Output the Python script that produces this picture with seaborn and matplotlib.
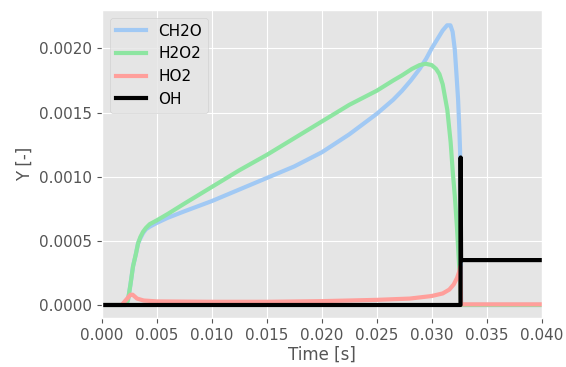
import numpy as np
import pandas as pd
import matplotlib
matplotlib.use("Agg")
import matplotlib.pyplot as plt
import seaborn as sns

# ---------------------------------------------------------------------------
# Données (fractions massiques)
# ---------------------------------------------------------------------------

t_ch2o = [0, 0.0022, 0.00238, 0.0026, 0.00283, 0.0031, 0.00329, 0.0035,
          0.00374, 0.004, 0.00435, 0.005, 0.006, 0.0075, 0.01, 0.0125, 0.015,
          0.0175, 0.02, 0.0225, 0.025, 0.0265, 0.0273, 0.0281, 0.0289,
          0.0295, 0.03, 0.0305, 0.031, 0.0314, 0.0317, 0.0319, 0.0321,
          0.03225, 0.0324, 0.0325, 0.03258, 0.03263, 0.03267, 0.04]
y_ch2o = [0, 0, 0.00004, 0.00016, 0.0003, 0.0004, 0.00048, 0.00052, 0.00056,
          0.00059, 0.00061, 0.00064, 0.00068, 0.00073, 0.00081, 0.0009,
          0.00099, 0.00108, 0.00119, 0.00133, 0.00149, 0.0016, 0.00167,
          0.00175, 0.00184, 0.00192, 0.002, 0.00207, 0.00214, 0.00218,
          0.00218, 0.00213, 0.00199, 0.0018, 0.0016, 0.0014, 0.0012, 0.0009,
          0.0, 0.0]

t_h2o2 = [0, 0.0022, 0.00238, 0.0026, 0.00283, 0.0031, 0.00329, 0.0035,
          0.00374, 0.004, 0.00435, 0.005, 0.006, 0.0075, 0.01, 0.0125, 0.015,
          0.0175, 0.02, 0.0225, 0.025, 0.0265, 0.0273, 0.0282, 0.0289,
          0.02945, 0.03, 0.0304, 0.0307, 0.031, 0.03142, 0.03172, 0.03193,
          0.0321, 0.0323, 0.0324, 0.0325, 0.0326, 0.03267, 0.04]
y_h2o2 = [0, 0, 0.00004, 0.00016, 0.0003, 0.0004, 0.00048, 0.00053, 0.00057,
          0.0006, 0.00063, 0.00066, 0.00071, 0.00079, 0.00092, 0.00105,
          0.00117, 0.0013, 0.00143, 0.00156, 0.00167, 0.00175, 0.00179,
          0.00184, 0.00187, 0.00188, 0.00187, 0.00184, 0.0018, 0.00172,
          0.00152, 0.00127, 0.00102, 0.00085, 0.0006, 0.00045, 0.0003,
          0.00015, 0.0, 0.0]

t_ho2 = [0, 0.0018, 0.0023, 0.0026, 0.0028, 0.0032, 0.0038, 0.005, 0.01,
         0.015, 0.02, 0.025, 0.028, 0.03, 0.031, 0.0316, 0.032, 0.0323, 0.0325,
         0.0326, 0.03267, 0.04]
y_ho2 = [0, 0, 0.00005, 0.00008, 0.00008, 0.00005, 0.000035, 0.000028,
         0.000025, 0.000025, 0.00003, 0.00004, 0.00005, 0.00007, 0.00009,
         0.00012, 0.00016, 0.00021, 0.00026, 0.0003, 0.000005, 0.000005]

t_oh = [0, 0.03262, 0.03263, 0.03267, 0.04]
y_oh = [0, 0, 0.00115, 0.00035, 0.00035]

especes = ["CH2O", "H2O2", "HO2", "OH"]
x_ticks = [0.000, 0.005, 0.010, 0.015, 0.020, 0.025, 0.030, 0.035, 0.040]
y_ticks = [0.0000, 0.0005, 0.0010, 0.0015, 0.0020]

# ---------------------------------------------------------------------------
# Tracé
# ---------------------------------------------------------------------------

plt.style.use("ggplot")
pastel = sns.color_palette("pastel")
couleurs = [pastel[0], pastel[2], pastel[3], "black"]

series = [(t_ch2o, y_ch2o), (t_h2o2, y_h2o2), (t_ho2, y_ho2), (t_oh, y_oh)]

fig = plt.figure(figsize=(5.66, 3.67), dpi=100)
ax = fig.add_axes([0.180, 0.134, 0.777, 0.839])

for nom, (t, y), c in zip(especes, series, couleurs):
    df = pd.DataFrame({"Time": t, "Y": y})
    sns.lineplot(data=df, x="Time", y="Y", ax=ax, color=c, lw=3,
                 label=nom, estimator=None, sort=False)

ax.set_xlim(0, 0.04)
ax.set_ylim(-0.0001, 0.0023)
ax.set_xticks(x_ticks)
ax.set_xticklabels([f"{v:.3f}" for v in x_ticks], fontsize=11)
ax.set_yticks(y_ticks)
ax.set_yticklabels([f"{v:.4f}" for v in y_ticks], fontsize=11)
ax.set_xlabel("Time [s]", fontsize=12, color="#555555", labelpad=2)
ax.set_ylabel("Y [-]", fontsize=12, color="#555555")
ax.legend(loc="upper left", fontsize=11)

fig.savefig("out.png", dpi=100)
